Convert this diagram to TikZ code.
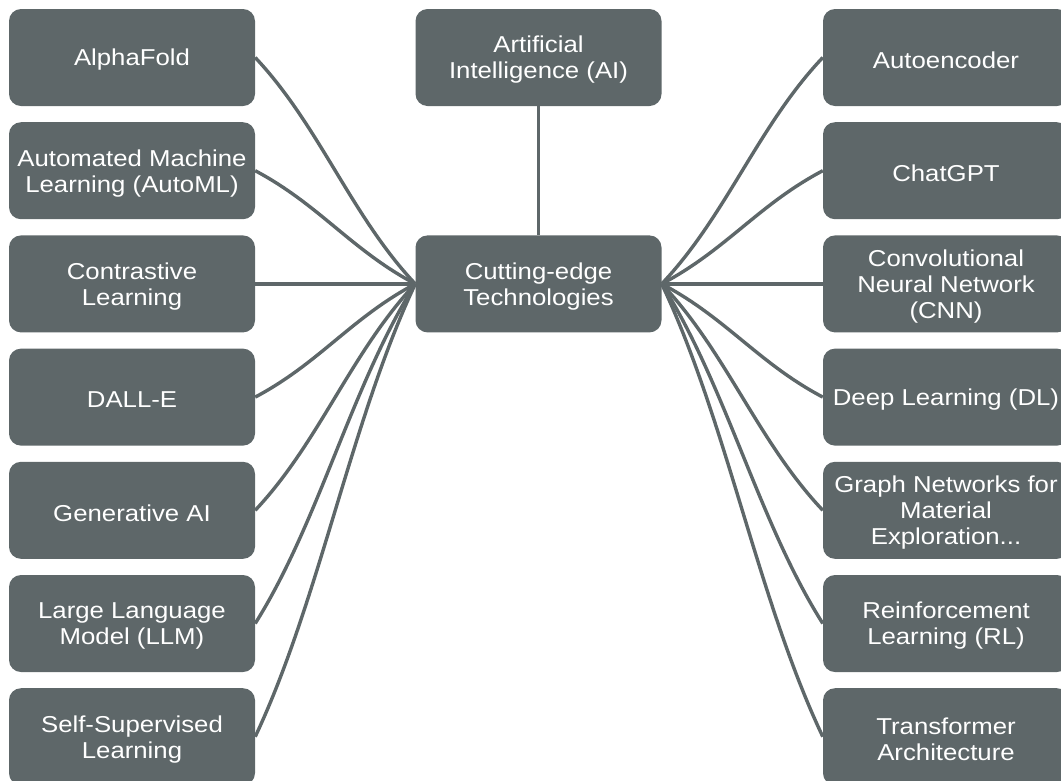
\documentclass[tikz,border=0pt]{standalone}
\usepackage{fontspec}
\setmainfont{Liberation Sans}[FakeStretch=1.12]
\usetikzlibrary{calc}
\definecolor{slate}{RGB}{94,103,105}

% S-shaped connector between two anchors
\newcommand\linkcurve[2]{%
  \draw[conn] let \p1=(#1), \p2=(#2) in
    (\p1) .. controls ($(\p1)+({0.4*((\x2)-(\x1))},{0.3*((\y2)-(\y1))})$)
          and ($(\p2)-({0.4*((\x2)-(\x1))},{0.3*((\y2)-(\y1))})$) .. (\p2);}

\begin{document}
\begin{tikzpicture}[x=1pt,y=-1pt,
  box/.style={fill=slate, rounded corners=12pt, minimum width=246pt,
    minimum height=97pt, inner sep=0pt, label={[boxtext]center:#1}},
  boxtext/.style={yshift=-2.5pt, inner sep=0pt, align=center, text=white,
    font=\fontsize{23}{26}\selectfont},
  conn/.style={draw=slate, line width=3.4pt}]
\useasboundingbox (0,0) rectangle (1061,780);

% centre column
\node[box={Artificial\\Intelligence (AI)}] (ai)  at (538.5,57.5) {};
\node[box={Cutting-edge\\Technologies}]    (cut) at (538.5,283.9) {};

% left column
\node[box={AlphaFold}]                           (l1) at (132,57.5)  {};
\node[box={Automated Machine\\Learning (AutoML)}] (l2) at (132,170.7) {};
\node[box={Contrastive\\Learning}]               (l3) at (132,283.9) {};
\node[box={DALL-E}]                              (l4) at (132,397.1) {};
\node[box={Generative AI}]                       (l5) at (132,510.3) {};
\node[box={Large Language\\Model (LLM)}]         (l6) at (132,623.5) {};
\node[box={Self-Supervised\\Learning}]           (l7) at (132,736.7) {};

% right column
\node[box={Autoencoder}]                               (r1) at (946,57.5)  {};
\node[box={ChatGPT}]                                   (r2) at (946,170.7) {};
\node[box={Convolutional\\Neural Network\\(CNN)}]      (r3) at (946,283.9) {};
\node[box={Deep Learning (DL)}]                        (r4) at (946,397.1) {};
\node[box={Graph Networks for\\Material\\Exploration...}] (r5) at (946,510.3) {};
\node[box={Reinforcement\\Learning (RL)}]              (r6) at (946,623.5) {};
\node[box={Transformer\\Architecture}]                 (r7) at (946,736.7) {};

% connectors
\draw[conn] (ai.south) -- (cut.north);
\foreach \i in {1,...,7}{
  \linkcurve{l\i.east}{cut.west}
  \linkcurve{cut.east}{r\i.west}
}
\end{tikzpicture}
\end{document}
